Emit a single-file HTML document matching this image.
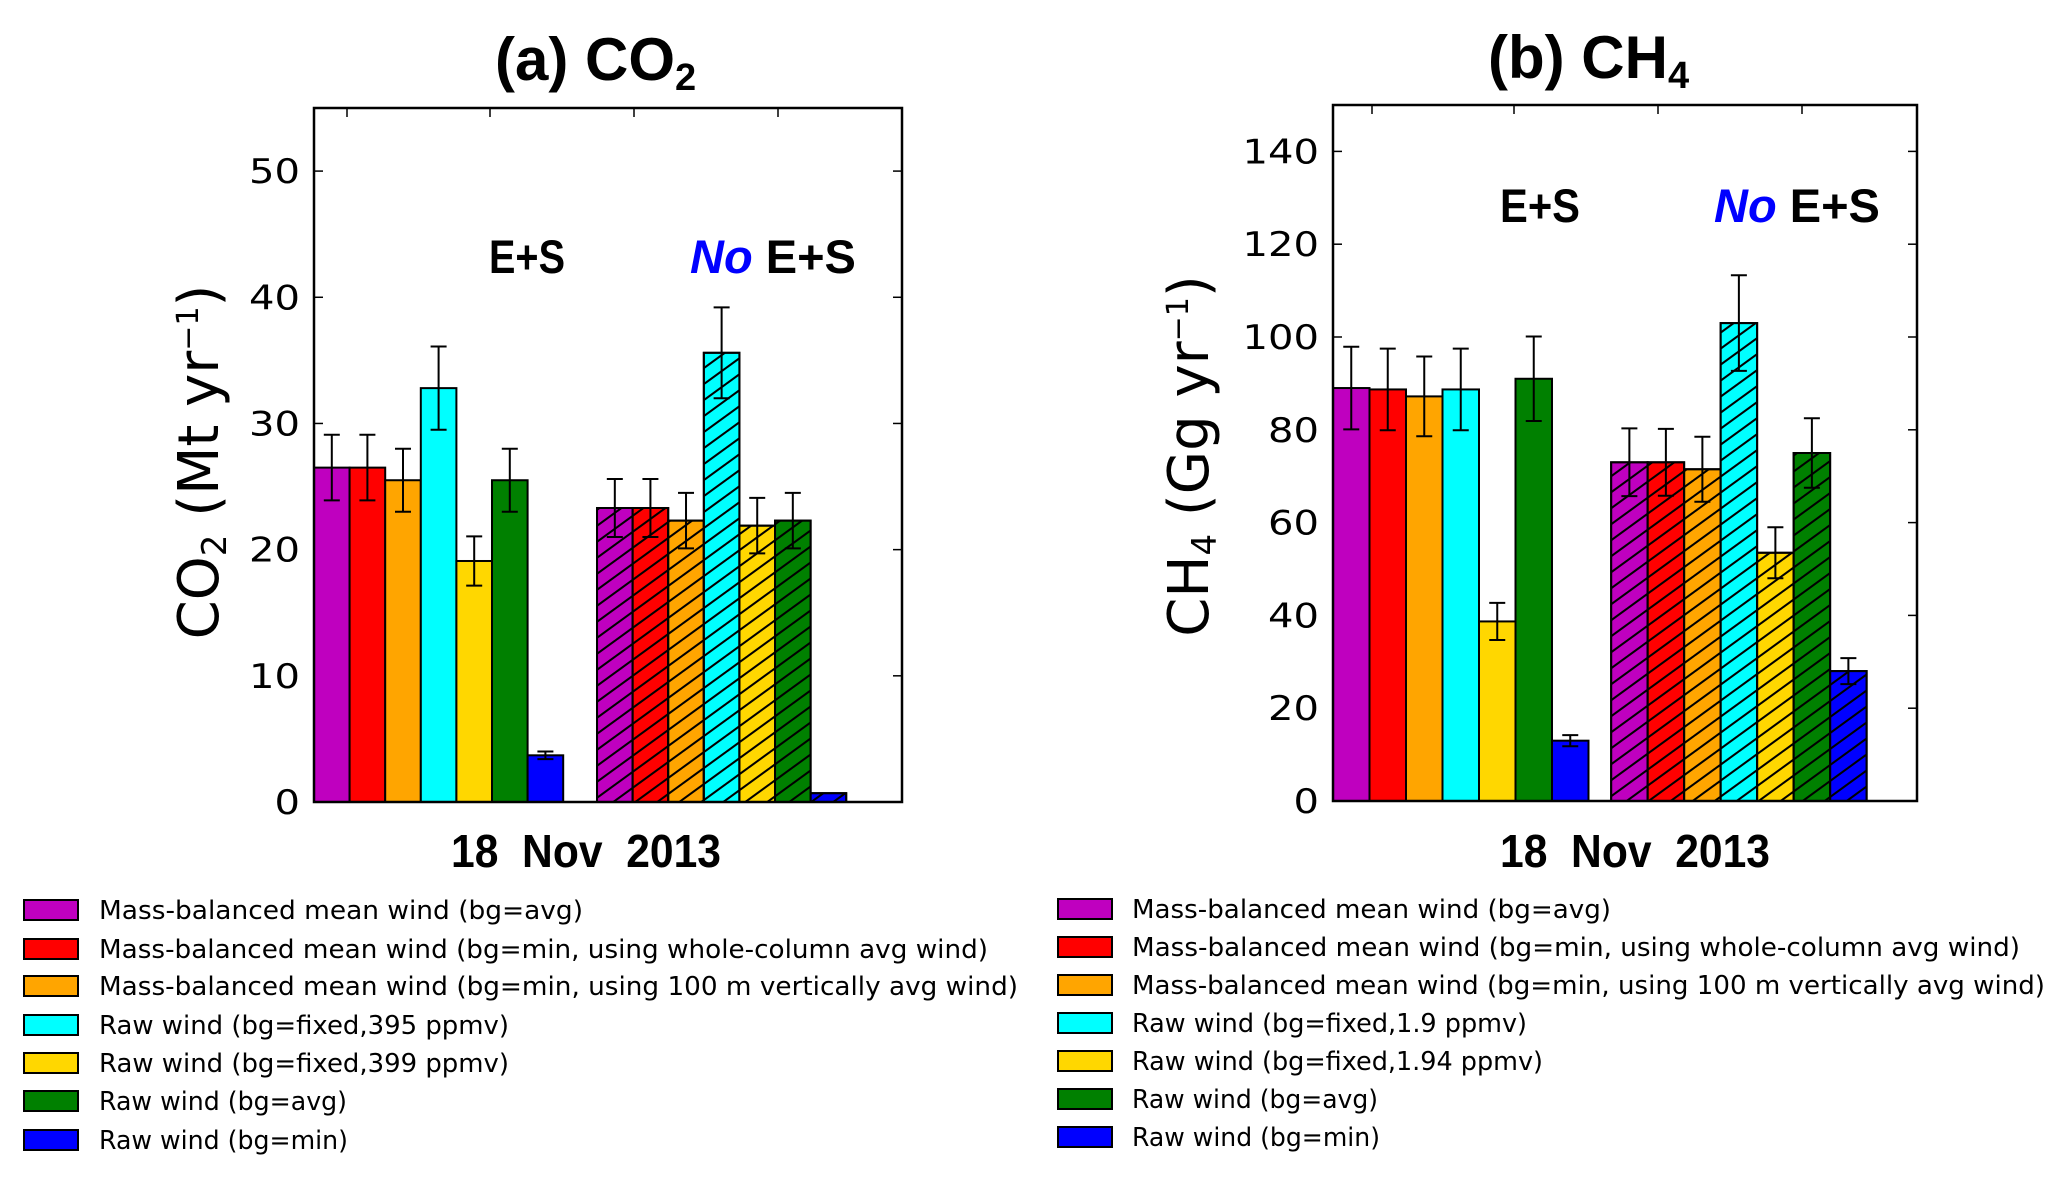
<!DOCTYPE html>
<html><head><meta charset="utf-8"><style>
html,body{margin:0;padding:0;background:#fff}
svg{display:block}
text{font-family:"DejaVu Sans","Liberation Sans",sans-serif}
.b{font-family:"Liberation Sans",sans-serif;font-weight:bold}
</style></head><body>
<svg id="fig" width="2067" height="1178" viewBox="0 0 2067 1178" xmlns="http://www.w3.org/2000/svg">
<defs>
<pattern id="hatch" patternUnits="userSpaceOnUse" width="22" height="16">
<path d="M-2,17.5 L24,-1.5 M-24,17.5 L2,-1.5 M20,17.5 L46,-1.5" stroke="#000" stroke-width="2" fill="none"/>
</pattern>
</defs>
<g id="chartA"></g>
<g id="chartB"></g>
<g id="legA"></g>
<g id="legB"></g>
</svg>
<script>
const colors = ["#BF00BF","#FF0000","#FFA500","#00FFFF","#FFD700","#008000","#0000FF"];
const co2ES = [26.5,26.5,25.5,32.8,19.1,25.5,3.7];
const co2ESerr = [2.6,2.6,2.5,3.3,1.95,2.5,0.3];
const co2No = [23.3,23.3,22.3,35.6,21.9,22.3,0.7];
const co2Noerr = [2.3,2.3,2.2,3.6,2.2,2.2,0];
const co2Ticks = [0,10,20,30,40,50];
const ch4ES = [89,88.7,87.2,88.7,38.7,91,13];
const ch4ESerr = [8.9,8.8,8.6,8.8,4,9.1,1.2];
const ch4No = [73,73,71.5,103,53.5,75,28];
const ch4Noerr = [7.3,7.2,7,10.3,5.5,7.5,2.8];
const ch4Ticks = [0,20,40,60,80,100,120,140];
const legA = ["Mass-balanced mean wind (bg=avg)","Mass-balanced mean wind (bg=min, using whole-column avg wind)","Mass-balanced mean wind (bg=min, using 100 m vertically avg wind)","Raw wind (bg=fixed,395 ppmv)","Raw wind (bg=fixed,399 ppmv)","Raw wind (bg=avg)","Raw wind (bg=min)"];
const legB = ["Mass-balanced mean wind (bg=avg)","Mass-balanced mean wind (bg=min, using whole-column avg wind)","Mass-balanced mean wind (bg=min, using 100 m vertically avg wind)","Raw wind (bg=fixed,1.9 ppmv)","Raw wind (bg=fixed,1.94 ppmv)","Raw wind (bg=avg)","Raw wind (bg=min)"];

const NS="http://www.w3.org/2000/svg";
function mk(p,tag,at,txt){const e=document.createElementNS(NS,tag);for(const k in at)e.setAttribute(k,at[k]);if(txt!==undefined)e.textContent=txt;p.appendChild(e);return e;}

function chart(g,cfg){
  const L=cfg.L,R=cfg.R,T=cfg.T,B=cfg.B;
  const y=v=>B-(v/cfg.ymax)*(B-T);
  const x=u=>L+u*cfg.w;
  cfg.ticks.forEach(t=>{
    const yy=y(t);
    let l=mk(g,'line',{x1:L,x2:L+9,y1:yy,y2:yy,stroke:'#000','stroke-width':1.5});
    
    let l2=mk(g,'line',{x1:R,x2:R-9,y1:yy,y2:yy,stroke:'#000','stroke-width':1.5});
    
    const s=String(t);
    let tx=mk(g,'text',{x:L-14,y:yy+12,'text-anchor':'end','font-size':34,textLength:s.length*25.5,lengthAdjust:'spacingAndGlyphs'},s);
    
  });
  cfg.xt.forEach(px=>{
    let l=mk(g,'line',{x1:px,x2:px,y1:T,y2:T+9,stroke:'#000','stroke-width':1.5});
    
  });
  const groups=[[cfg.a,cfg.ae,0,false],[cfg.b,cfg.be,cfg.off,true]];
  groups.forEach(([vals,errs,off,h],gi)=>{
    vals.forEach((v,i)=>{
      const x0=x(off+i),yy=y(v);
      let r=mk(g,'rect',{x:x0,y:yy,width:cfg.w,height:B-yy,fill:colors[i],stroke:'#000','stroke-width':2});
      
      if(h){let hr=mk(g,'rect',{x:x0,y:yy,width:cfg.w,height:B-yy,fill:'url(#hatch)',stroke:'#000','stroke-width':2});
        }
      const e=errs[i];
      if(e>0){const cx=x0+cfg.w/2;
        let eb=mk(g,'path',{d:`M${cx},${y(v+e)}V${y(v-e)}M${cx-8},${y(v+e)}H${cx+8}M${cx-8},${y(v-e)}H${cx+8}`,stroke:'#000','stroke-width':2,fill:'none'});
        }
    });
  });
  let fr=mk(g,'rect',{x:L,y:T,width:R-L,height:B-T,fill:'none',stroke:'#000','stroke-width':2.5});
  
}

chart(document.getElementById('chartA'),{L:314,R:902,T:108,B:802,ymax:55,w:35.6,off:7.95,ticks:co2Ticks,a:co2ES,ae:co2ESerr,b:co2No,be:co2Noerr,xt:[347,490,634,778]});
chart(document.getElementById('chartB'),{L:1333,R:1917,T:105,B:801,ymax:150,w:36.5,off:7.62,ticks:ch4Ticks,a:ch4ES,ae:ch4ESerr,b:ch4No,be:ch4Noerr,xt:[1372,1514,1658,1802]});

function legend(g,labels,sx,tx,ys,ends){
  labels.forEach((s,i)=>{
    let r=mk(g,'rect',{x:sx,y:ys[i]-10,width:54,height:20,fill:colors[i],stroke:'#000','stroke-width':2});
    
    let t=mk(g,'text',{x:tx,y:ys[i]+9,'font-size':26,textLength:ends[i]-tx,lengthAdjust:'spacingAndGlyphs'},s);
    
  });
}
legend(document.getElementById('legA'),legA,24,99,[910,949,986,1025,1063,1101,1140],[583,988,1018,509,509,347,348]);
legend(document.getElementById('legB'),legB,1058,1132,[909,947,985,1023,1061,1099,1137],[1611,2020,2045,1527,1543,1378,1380]);

const svg=document.getElementById('fig');
function T(x,y,s,at,name){const t=mk(svg,'text',Object.assign({x:x,y:y},at));t.innerHTML=s;return t;}
T(495,80,'(a) CO<tspan font-size="38" dy="10">2</tspan>',{class:'b','font-size':60},'title-co2');
T(1488,78,'(b) CH<tspan font-size="38" dy="10">4</tspan>',{class:'b','font-size':60},'title-ch4');
T(489,273,'E+S',{class:'b','font-size':47,textLength:76,lengthAdjust:'spacingAndGlyphs'},'label-es');
T(690,273,'<tspan fill="#0000FF" font-style="italic">No</tspan> E+S',{class:'b','font-size':47},'label-no-es');
T(1500,222,'E+S',{class:'b','font-size':47,textLength:80,lengthAdjust:'spacingAndGlyphs'},'label-es-b');
T(1714,222,'<tspan fill="#0000FF" font-style="italic">No</tspan> E+S',{class:'b','font-size':47},'label-no-es-b');
T(451,867,'18&#160; Nov&#160; 2013',{class:'b','font-size':46,textLength:270,lengthAdjust:'spacingAndGlyphs'},'x-axis-title-a');
T(1500,867,'18&#160; Nov&#160; 2013',{class:'b','font-size':46,textLength:270,lengthAdjust:'spacingAndGlyphs'},'x-axis-title-b');
T(0,0,'CO<tspan font-size="34" dy="8">2</tspan><tspan dy="-8"> (Mt yr</tspan><tspan font-size="30" dy="-20">−1</tspan><tspan dy="20">)</tspan>',{'font-size':56,'text-anchor':'middle',transform:'translate(218,462) rotate(-90)'},'y-axis-title-a');
T(0,0,'CH<tspan font-size="34" dy="8">4</tspan><tspan dy="-8"> (Gg yr</tspan><tspan font-size="30" dy="-20">−1</tspan><tspan dy="20">)</tspan>',{'font-size':56,'text-anchor':'middle',transform:'translate(1208,456) rotate(-90)'},'y-axis-title-b');
</script>
</body></html>
